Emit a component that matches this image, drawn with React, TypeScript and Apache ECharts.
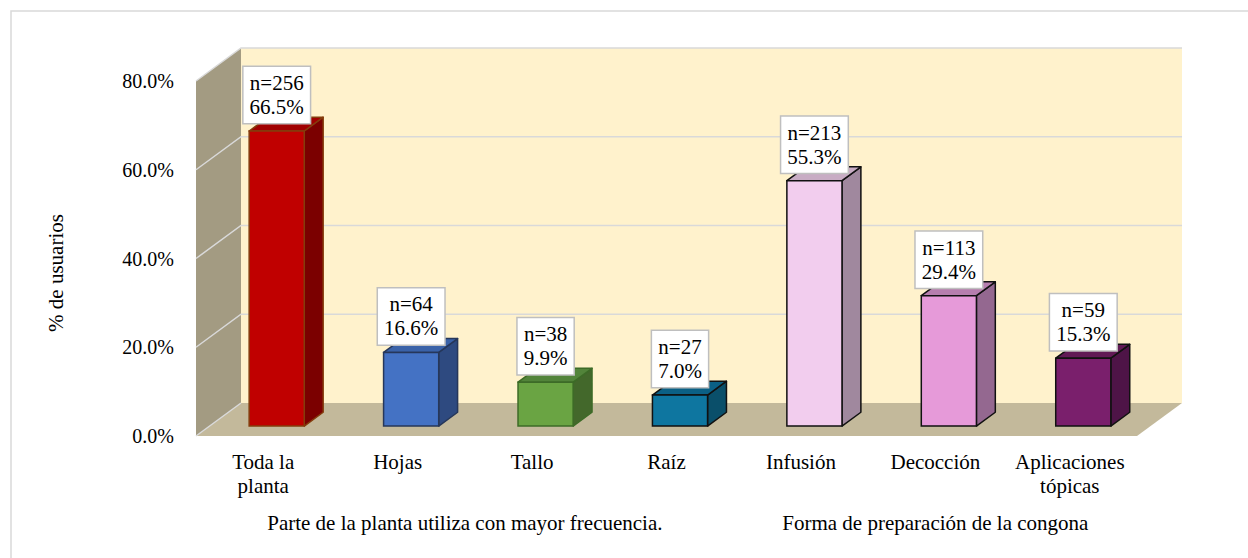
import React, { useEffect, useRef } from "react";
import * as echarts from "echarts";

const categories = ["Toda la\nplanta", "Hojas", "Tallo", "Raíz", "Infusión", "Decocción", "Aplicaciones\ntópicas"];
const percentages = [66.5, 16.6, 9.9, 7.0, 55.3, 29.4, 15.3];
const counts = [256, 64, 38, 27, 213, 113, 59];
const yTicks = [0, 20, 40, 60, 80];
const groupTitles = ["Parte de la planta utiliza con mayor frecuencia.", "Forma de preparación de la congona"];
const groupRanges = [[0, 3], [4, 6]];

const frontColors = ["#c00000", "#4472c4", "#6aa443", "#0e76a0", "#f2cdee", "#e69ad9", "#7a1f6c"];
const sideColors = ["#7b0000", "#2e4a80", "#43682b", "#0a4f6a", "#a0889e", "#946890", "#4e1447"];
const topColors = ["#a00000", "#3a62a8", "#52843a", "#0b6085", "#c8acc4", "#b67eae", "#611955"];
const edgeColors = ["#843c0c", "#26375a", "#3d6b27", "#111111", "#111111", "#111111", "#111111"];

const FONT = "'Liberation Serif', 'Times New Roman', serif";
const DX = 45;
const DY = -33;
const F0 = 0.3;
const FD = 0.42;

export default function App() {
  const ref = useRef<HTMLDivElement>(null);
  useEffect(() => {
    if (!ref.current) return;
    const chart = echarts.init(ref.current, undefined, { renderer: "svg" });
    const option: any = {
      animation: false,
      backgroundColor: "#ffffff",
      grid: { left: 196, right: 111, top: 81, bottom: 122 },
      graphic: [
        {
          type: "rect",
          shape: { x: 11, y: 11, width: 1300, height: 600 },
          style: { fill: "none", stroke: "#d9d9d9", lineWidth: 1.5 },
          silent: true,
        },
        {
          type: "text",
          x: 56,
          y: 273,
          rotation: Math.PI / 2,
          style: { text: "% de usuarios", font: `21px ${FONT}`, fill: "#000", align: "center", verticalAlign: "middle" },
        },
      ],
      xAxis: {
        type: "category",
        data: categories,
        axisLine: { show: false },
        axisTick: { show: false },
        axisLabel: { color: "#000", fontFamily: FONT, fontSize: 21, lineHeight: 24, margin: 14, interval: 0 },
      },
      yAxis: {
        type: "value",
        min: 0,
        max: 80,
        interval: 20,
        axisLine: { show: false },
        axisTick: { show: false },
        splitLine: { show: false },
        axisLabel: {
          color: "#000",
          fontFamily: FONT,
          fontSize: 20,
          margin: 22,
          formatter: (v: number) => v.toFixed(1) + "%",
        },
      },
      series: [
        {
          type: "custom",
          data: [[0, 0]],
          clip: false,
          z: 1,
          silent: true,
          renderItem: (params: any, api: any) => {
            const cs = params.coordSys;
            const x0 = cs.x;
            const x1 = cs.x + cs.width;
            const yb = api.coord([0, yTicks[0]])[1];
            const yt = api.coord([0, yTicks[yTicks.length - 1]])[1];
            const children: any[] = [];
            children.push({
              type: "polygon",
              shape: { points: [[x0 + DX, yt + DY], [x1 + DX, yt + DY], [x1 + DX, yb + DY], [x0 + DX, yb + DY]] },
              style: { fill: "#fff2cc" },
            });
            children.push({
              type: "polygon",
              shape: { points: [[x0, yt], [x0 + DX, yt + DY], [x0 + DX, yb + DY], [x0, yb]] },
              style: { fill: "#a39b82" },
            });
            children.push({
              type: "polygon",
              shape: { points: [[x0, yb], [x1, yb], [x1 + DX, yb + DY], [x0 + DX, yb + DY]] },
              style: { fill: "#c3b99b" },
            });
            yTicks.forEach((v) => {
              const y = api.coord([0, v])[1];
              if (v !== 0) {
                children.push({
                  type: "polyline",
                  shape: { points: [[x0, y], [x0 + DX, y + DY], [x1 + DX, y + DY]] },
                  style: { stroke: "#d9d9d9", lineWidth: 1.5, fill: "none" },
                });
              } else {
                children.push({
                  type: "line",
                  shape: { x1: x0, y1: y, x2: x0 + DX, y2: y + DY },
                  style: { stroke: "#d9d9d9", lineWidth: 1.5 },
                });
              }
            });
            groupTitles.forEach((t, gi) => {
              const a = api.coord([groupRanges[gi][0], 0])[0];
              const b = api.coord([groupRanges[gi][1], 0])[0];
              children.push({
                type: "text",
                x: (a + b) / 2,
                y: 523,
                style: { text: t, font: `21px ${FONT}`, fill: "#000", align: "center", verticalAlign: "middle" },
              });
            });
            return { type: "group", children };
          },
        },
        {
          type: "custom",
          data: percentages.map((v, i) => [i, v, counts[i]]),
          clip: false,
          z: 2,
          renderItem: (params: any, api: any) => {
            const i = api.value(0);
            const v = api.value(1);
            const n = api.value(2);
            const c0 = api.coord([i, 0]);
            const c1 = api.coord([i, v]);
            const bw = api.size([1, 0])[0] * 0.41;
            const xl = c0[0] - bw / 2 + F0 * DX;
            const xr = xl + bw;
            const yb = c0[1] + F0 * DY;
            const yt = c1[1] + F0 * DY;
            const ddx = FD * DX;
            const ddy = FD * DY;
            const edge = edgeColors[i];
            return {
              type: "group",
              children: [
                {
                  type: "polygon",
                  shape: { points: [[xr, yb], [xr + ddx, yb + ddy], [xr + ddx, yt + ddy], [xr, yt]] },
                  style: { fill: sideColors[i], stroke: edge, lineWidth: 1.5, lineJoin: "round" },
                },
                {
                  type: "polygon",
                  shape: { points: [[xl, yt], [xr, yt], [xr + ddx, yt + ddy], [xl + ddx, yt + ddy]] },
                  style: { fill: topColors[i], stroke: edge, lineWidth: 1.5, lineJoin: "round" },
                },
                {
                  type: "rect",
                  shape: { x: xl, y: yt, width: bw, height: yb - yt },
                  style: { fill: frontColors[i], stroke: edge, lineWidth: 1.5 },
                },
                {
                  type: "text",
                  x: (xl + xr) / 2,
                  y: yt - 8,
                  z2: 10,
                  style: {
                    text: `n=${n}\n${v.toFixed(1)}%`,
                    font: `21px ${FONT}`,
                    lineHeight: 24,
                    fill: "#000",
                    align: "center",
                    verticalAlign: "bottom",
                    backgroundColor: "#ffffff",
                    borderColor: "#bfbfbf",
                    borderWidth: 1.5,
                    padding: [4, 6, 4, 6],
                  },
                },
              ],
            };
          },
        },
      ],
    };
    chart.setOption(option);
    return () => chart.dispose();
  }, []);
  return <div ref={ref} style={{ position: "fixed", left: 0, top: 0, width: 1248, height: 558 }} />;
}
